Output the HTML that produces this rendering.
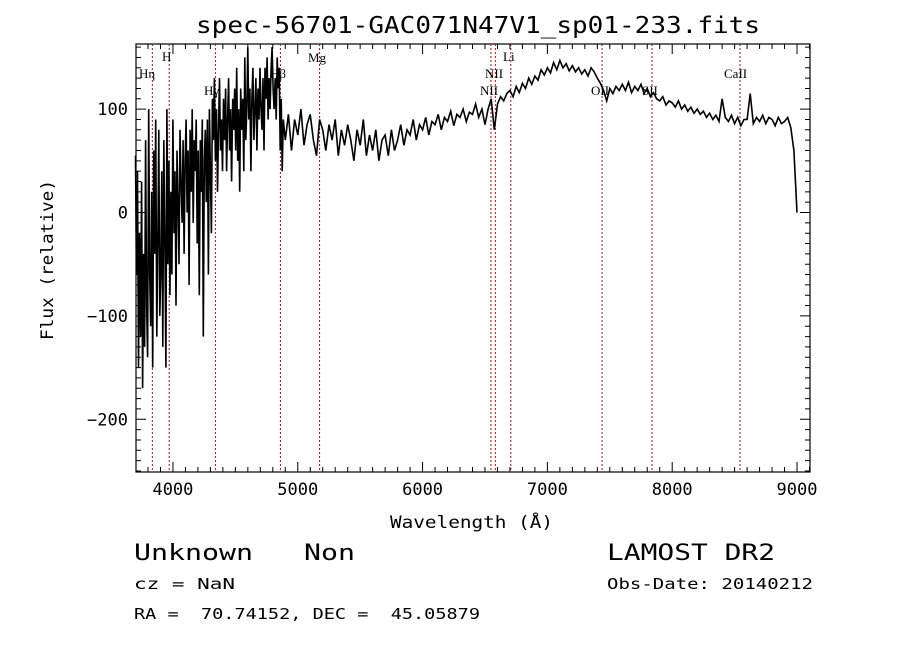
<!DOCTYPE html>
<html><head><meta charset="utf-8"><style>
html,body{margin:0;padding:0;background:#fff;}
svg{display:block;}
text{font-family:"DejaVu Sans Mono","Liberation Mono",monospace;fill:#000;white-space:pre;}
text.lab{font-family:"Liberation Serif",serif;font-size:13px;}
</style></head><body>
<svg id="chart" width="900" height="649" viewBox="0 0 900 649" xml:space="preserve">
<text x="196" y="33" font-size="23" textLength="564" lengthAdjust="spacingAndGlyphs">spec-56701-GAC071N47V1_sp01-233.fits</text>
<g id="axes"></g>
<g id="lines"></g>
<path id="spec" fill="none" stroke="#000" stroke-width="1.6" stroke-linejoin="miter"/>
<text x="390" y="528" font-size="17" textLength="163" lengthAdjust="spacingAndGlyphs">Wavelength (Å)</text>
<text transform="translate(53,340) rotate(-90)" font-size="17" textLength="160" lengthAdjust="spacingAndGlyphs">Flux (relative)</text>
<text x="134" y="560" font-size="22" textLength="221" lengthAdjust="spacingAndGlyphs">Unknown   Non</text>
<text x="134" y="589" font-size="15" textLength="101" lengthAdjust="spacingAndGlyphs">cz = NaN</text>
<text x="134" y="619" font-size="15" textLength="346" lengthAdjust="spacingAndGlyphs">RA =  70.74152, DEC =  45.05879</text>
<text x="607" y="560" font-size="22" textLength="168" lengthAdjust="spacingAndGlyphs">LAMOST DR2</text>
<text x="607" y="589" font-size="15" textLength="206" lengthAdjust="spacingAndGlyphs">Obs-Date: 20140212</text>
</svg>
<script>
const xTicks=[4000,5000,6000,7000,8000,9000];
const yTicks=[-200,-100,0,100];
const lineNames=["Hη","H","Hγ","Hβ","Mg","NII","NII","Li","OII","SII","CaII"];
const lineWaves=[3835,3970,4340,4861,5175,6548,6583,6707,7438,7838,8543];
const blueStart=3700, blueEnd=4900;
const blueFlux=[55,-60,40,-150,-20,-120,30,-170,-40,-130,70,-90,-140,
100,-60,-110,20,-150,60,-40,90,-120,-30,80,-100,
-60,40,-130,70,-20,-150,100,-50,50,-80,20,-60,
90,-20,40,-90,60,10,-50,80,30,-10,70,-40,50,
90,0,60,-70,80,20,100,-10,70,40,90,-30,
60,-80,70,20,90,-120,50,80,10,90,-60,100,
40,-20,110,70,130,50,100,20,80,130,60,90,40,
110,70,120,40,90,130,60,100,30,110,80,120,
60,140,50,100,20,120,80,110,40,150,70,100,160,
90,120,40,110,140,70,100,130,60,120,90,140,
100,80,130,60,140,110,150,90,130,100,140,160,120,
100,130,90,150,120,140,60,110,40,90,80,70];
const redStart=4900, redEnd=9000;
const redFlux=[70,95,60,90, 75,100,65,85, 95,70,55,90, 80,60,85,70, 90,55,80,65,
85,70,50,80, 65,90,55,75, 60,80,50,70, 75,55,80,60, 70,85,65,80,
75,90,70,85, 80,92,75,88, 85,95,80,92, 88,98,84,95, 92,100,88,97,
95,105,92,100, 85,100,110,80, 105,112,108,115, 118,112,122,116, 125,120,130,124,
132,128,138,133, 140,135,145,138, 147,140,144,137, 142,136,140,134, 138,132,140,136,
130,125,118,108, 120,115,122,118, 124,118,126,116, 122,118,124,115, 120,112,116,110,
108,112,104,108, 106,102,108,100, 104,98,102,96, 100,95,98,92, 96,90,94,88,
110,92,88,94, 86,92,84,90, 90,115,86,92, 88,94,86,92, 90,84,92,86,
88,92,82,60, 0];
const X0=136,X1=810,Y0=44,Y1=472,WMIN=3704,WMAX=9104,FMIN=-251,FMAX=163;
const sx=w=>X0+(w-WMIN)/(WMAX-WMIN)*(X1-X0);
const sy=f=>Y1-(f-FMIN)/(FMAX-FMIN)*(Y1-Y0);
const NS="http://www.w3.org/2000/svg";
function mk(tag,attrs,parent){const e=document.createElementNS(NS,tag);for(const k in attrs)e.setAttribute(k,attrs[k]);parent.appendChild(e);return e;}
const axes=document.getElementById('axes');
const frame=mk('rect',{x:X0,y:Y0,width:X1-X0,height:Y1-Y0,fill:'none',stroke:'#000','stroke-width':1.2},axes);


let d='';
for(let w=3800;w<=9100;w+=100){const x=sx(w);const L=(w%1000===0)?10:5;d+=`M${x} ${Y1}v${-L}M${x} ${Y0}v${L}`;}
for(let f=-250;f<=160;f+=10){const y=sy(f);const L=(f%100===0)?10:5;d+=`M${X0} ${y}h${L}M${X1} ${y}h${-L}`;}
const tk=mk('path',{d:d,stroke:'#000','stroke-width':1,fill:'none'},axes);


xTicks.forEach(v=>{const t=mk('text',{x:sx(v),y:Y1+23,'font-size':17,'text-anchor':'middle'},axes);t.textContent=v;

});
yTicks.forEach(v=>{const t=mk('text',{x:X0-8,y:sy(v)+6,'font-size':17,'text-anchor':'end'},axes);t.textContent=v===0?'0':(v<0?'−'+(-v):v);

});
const lg=document.getElementById('lines');
const labX=[139,162,204,270,308,485,480,503,591,642,724];
const labY=[78,61,95,78,62,78,95,61,95,95,78];
lineWaves.forEach((w,i)=>{const x=sx(w);
const l=mk('line',{x1:x,x2:x,y1:Y0,y2:Y1,stroke:'#8b1a1a','stroke-width':1,'stroke-dasharray':'2,2'},lg);


const t=mk('text',{x:labX[i],y:labY[i],class:'lab'},lg);t.textContent=lineNames[i];

});
let p='';
blueFlux.forEach((f,i)=>{const w=blueStart+i*(blueEnd-blueStart)/(blueFlux.length-1);p+=(i?'L':'M')+sx(w).toFixed(1)+' '+sy(f).toFixed(1);});
redFlux.forEach((f,i)=>{const w=redStart+i*(redEnd-redStart)/(redFlux.length-1);p+='L'+sx(w).toFixed(1)+' '+sy(f).toFixed(1);});
document.getElementById('spec').setAttribute('d',p);
</script>
</body></html>
